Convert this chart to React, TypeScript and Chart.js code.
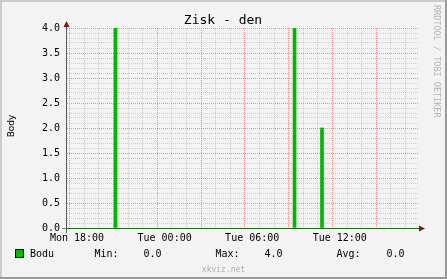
import React, { useEffect, useRef } from "react";
import { Chart, registerables } from "chart.js";

Chart.register(...registerables);

// ---- data ----
const TITLE = "Zisk - den";
const Y_AXIS_TITLE = "Body";
const SERIES_NAME = "Bodu";
const WATERMARK = "RRDTOOL / TOBI OETIKER";
const FOOTER = "xkviz.net";
// hours counted from Mon 18:00
const BAR_HOURS = [2.64, 14.9, 16.78];
const BAR_VALUES = [4.0, 4.0, 2.0];
const X_MIN = -0.685;
const X_MAX = 23.425;
const X_LABEL_HOURS = [0, 6, 12, 18];
const X_TICK_LABELS = ["Mon 18:00", "Tue 00:00", "Tue 06:00", "Tue 12:00"];
const Y_MIN = 0;
const Y_MAX = 4;
const STAT_LABELS = ["Min:", "Max:", "Avg:"];
const STAT_VALUES = ["0.0", "4.0", "0.0"];

const MONO = "'DejaVu Sans Mono', monospace";
const SANS = "'DejaVu Sans', sans-serif";
const BG = "#F3F3F3";
const GREEN = "#00B800";
const MINOR = "rgba(150,150,150,0.38)";
const MAJOR = "rgba(240,60,60,0.55)";
const ARROW = "#7f1515";

const decor = {
  id: "rrdDecor",
  beforeDraw(chart: any) {
    const { ctx, width, height } = chart;
    ctx.save();
    ctx.fillStyle = BG;
    ctx.fillRect(0, 0, width, height);
    ctx.fillStyle = "#CBCBCB";
    ctx.fillRect(0, 0, width, 2);
    ctx.fillRect(0, 0, 2, height);
    ctx.fillStyle = "#999999";
    ctx.fillRect(0, height - 2, width, 2);
    ctx.fillRect(width - 2, 0, 2, height);
    ctx.restore();
  },
  afterDraw(chart: any) {
    const { ctx } = chart;
    const xs = chart.scales.x;
    const ys = chart.scales.y;
    const x0 = Math.round(xs.getPixelForValue(X_MIN)) - 1; // axis column
    const x1 = Math.round(xs.getPixelForValue(X_MAX));
    const y0 = Math.round(ys.getPixelForValue(Y_MIN)); // baseline row
    const yTop = Math.round(ys.getPixelForValue(Y_MAX));
    ctx.save();
    // x axis (grey stub + green zero line)
    ctx.fillStyle = "#777";
    ctx.fillRect(x0 - 4, y0, 5, 1);
    ctx.fillStyle = "#1d6a1d";
    ctx.fillRect(x0 + 1, y0, x1 - x0 - 1, 1);
    // y axis
    ctx.fillStyle = "#5a5a5a";
    ctx.fillRect(x0, yTop - 4, 1, y0 - yTop + 9);
    // arrows
    ctx.fillStyle = ARROW;
    ctx.beginPath();
    ctx.moveTo(x0 + 0.5, yTop - 7);
    ctx.lineTo(x0 + 3.5, yTop - 1);
    ctx.lineTo(x0 - 2.5, yTop - 1);
    ctx.closePath();
    ctx.fill();
    ctx.beginPath();
    ctx.moveTo(x1 + 6, y0 + 0.5);
    ctx.lineTo(x1, y0 + 3.5);
    ctx.lineTo(x1, y0 - 2.5);
    ctx.closePath();
    ctx.fill();

    // title
    ctx.fillStyle = "#000";
    ctx.font = `13px ${MONO}`;
    ctx.textAlign = "center";
    ctx.textBaseline = "alphabetic";
    ctx.fillText(TITLE, 223, 24);

    // y axis title
    ctx.save();
    ctx.translate(14, (yTop + y0) / 2 - 2);
    ctx.rotate(-Math.PI / 2);
    ctx.font = `9px ${SANS}`;
    ctx.textAlign = "center";
    ctx.fillText(Y_AXIS_TITLE, 0, 0);
    ctx.restore();

    // watermark
    ctx.save();
    ctx.translate(434, 5);
    ctx.rotate(Math.PI / 2);
    ctx.font = `8.5px ${MONO}`;
    ctx.fillStyle = "#b4b4b4";
    ctx.textAlign = "left";
    ctx.fillText(WATERMARK, 0, 0);
    ctx.restore();

    // legend
    ctx.fillStyle = GREEN;
    ctx.fillRect(15, 249, 9, 9);
    ctx.strokeStyle = "#000";
    ctx.lineWidth = 1;
    ctx.strokeRect(15.5, 249.5, 8, 8);
    ctx.fillStyle = "#000";
    ctx.font = `10px ${MONO}`;
    ctx.textAlign = "left";
    ctx.fillText(SERIES_NAME, 30, 257);
    const labelX = [94.5, 215.5, 336.5];
    const valX = [143.5, 264.5, 386.5];
    STAT_LABELS.forEach((l, i) => ctx.fillText(l, labelX[i], 257));
    STAT_VALUES.forEach((v, i) => ctx.fillText(v, valX[i], 257));

    // footer
    ctx.fillStyle = "#b0b0b0";
    ctx.font = `8px ${MONO}`;
    ctx.textAlign = "center";
    ctx.fillText(FOOTER, 223.5, 272);
    ctx.restore();
  },
};

export default function App() {
  const ref = useRef<HTMLCanvasElement>(null);
  useEffect(() => {
    document.body.style.margin = "0";
    const canvas = ref.current!;
    const chart = new Chart(canvas, {
      type: "bar",
      data: {
        datasets: [
          {
            label: SERIES_NAME,
            data: BAR_HOURS.map((h, i) => ({ x: h, y: BAR_VALUES[i] })),
            backgroundColor: GREEN,
            borderWidth: 0,
            barThickness: 3,
          },
        ],
      },
      plugins: [decor],
      options: {
        animation: false,
        responsive: false,
        devicePixelRatio: 1,
        layout: { padding: { left: 0, top: 28, right: 28, bottom: 0 } },
        plugins: {
          legend: { display: false },
          title: { display: false },
          tooltip: { enabled: false },
        },
        scales: {
          x: {
            type: "linear",
            min: X_MIN,
            max: X_MAX,
            offset: false,
            afterBuildTicks: (s: any) => {
              const t = [];
              for (let h = Math.ceil(X_MIN); h <= Math.floor(X_MAX); h++) t.push({ value: h });
              s.ticks = t;
            },
            afterFit: (s: any) => {
              s.height = 51;
            },
            border: { display: false, dash: [1, 1] },
            grid: {
              drawTicks: false,
              color: (c: any) => (c.tick && c.tick.value % 3 === 0 ? MAJOR : MINOR),
              lineWidth: 1,
            },
            ticks: {
              autoSkip: false,
              maxRotation: 0,
              minRotation: 0,
              padding: 4,
              color: "#000",
              font: { family: MONO, size: 10 },
              callback: (v: any) => {
                const i = X_LABEL_HOURS.indexOf(Number(v));
                return i >= 0 ? X_TICK_LABELS[i] : "";
              },
            },
          },
          y: {
            type: "linear",
            min: Y_MIN,
            max: Y_MAX,
            afterBuildTicks: (s: any) => {
              const t = [];
              for (let i = 0; i <= 40; i++) t.push({ value: i / 10 });
              s.ticks = t;
            },
            afterFit: (s: any) => {
              s.width = 67;
            },
            border: { display: false, dash: [1, 1] },
            grid: {
              drawTicks: false,
              color: (c: any) =>
                c.tick && Math.round(c.tick.value * 10) % 5 === 0 ? MAJOR : MINOR,
              lineWidth: 1,
            },
            ticks: {
              autoSkip: false,
              padding: 7,
              color: "#000",
              font: { family: MONO, size: 10 },
              callback: (v: any) =>
                Math.round(Number(v) * 10) % 5 === 0 ? Number(v).toFixed(1) : "",
            },
          },
        },
      },
    });
    return () => chart.destroy();
  }, []);
  return (
    <canvas ref={ref} width={447} height={279} style={{ display: "block", width: 447, height: 279 }} />
  );
}
